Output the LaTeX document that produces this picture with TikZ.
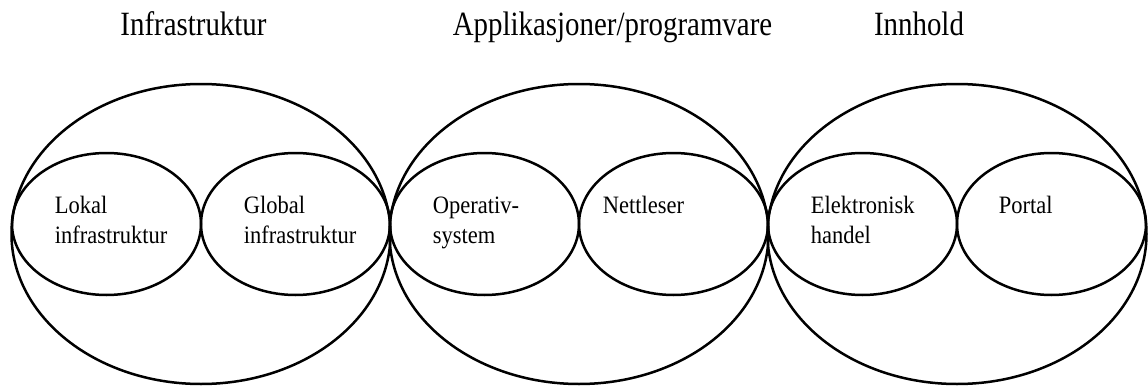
\documentclass[tikz,border=0pt]{standalone}
\usepackage{fontspec}
\setmainfont{Liberation Serif}
\usetikzlibrary{positioning,calc}

\begin{document}
\begin{tikzpicture}[x=0.5pt,y=0.5pt, line join=round,
  ring/.style={line width=1.25pt},
  heading/.style={anchor=base, inner sep=0pt, xscale=0.85, font=\fontsize{17}{20}\selectfont},
  itemtext/.style={anchor=base west, inner sep=0pt, xscale=0.9, font=\fontsize{12.5}{15}\selectfont}]
\useasboundingbox (0,0) rectangle (1148,387);
% outer areas
\coordinate (B1) at (201,153);
\coordinate (B2) at (579,153);
\coordinate (B3) at (957,153);
\draw[ring] (B1) ellipse (189.5 and 150);
\draw[ring] (B2) ellipse (189.5 and 150);
\draw[ring] (B3) ellipse (189.5 and 150);
% inner parts
\coordinate (I1) at (106.5,163);
\coordinate (I2) at (295.5,163);
\coordinate (I3) at (484.5,163);
\coordinate (I4) at (673.5,163);
\coordinate (I5) at (862.5,163);
\coordinate (I6) at (1051.5,163);
\foreach \c in {I1,I2,I3,I4,I5,I6}
  \draw[ring] (\c) ellipse (94.5 and 71);
% headings
\node[heading] (hInfra) at (193.5,352) {Infrastruktur};
\node[heading] (hApp) at (612.5,352) {Applikasjoner/programvare};
\node[heading] (hInnhold) at (919,352) {Innhold};
% texts
\node[itemtext] (tLokal) at ($(I1)+(-52,11)$) {\begin{tabular}[t]{@{}l@{}}Lokal\\infrastruktur\end{tabular}};
\node[itemtext] (tGlobal) at ($(I2)+(-52,11)$) {\begin{tabular}[t]{@{}l@{}}Global\\infrastruktur\end{tabular}};
\node[itemtext] (tOS) at ($(I3)+(-52,11)$) {\begin{tabular}[t]{@{}l@{}}Operativ-\\system\end{tabular}};
\node[itemtext] (tNett) at ($(I4)+(-71,11)$) {Nettleser};
\node[itemtext] (tHandel) at ($(I5)+(-52,11)$) {\begin{tabular}[t]{@{}l@{}}Elektronisk\\handel\end{tabular}};
\node[itemtext] (tPortal) at ($(I6)+(-53,11)$) {Portal};
\end{tikzpicture}
\end{document}
